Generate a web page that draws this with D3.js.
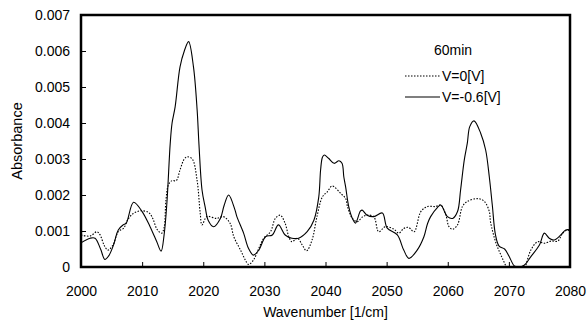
<!DOCTYPE html>
<html>
<head>
<meta charset="utf-8">
<script src="https://cdn.jsdelivr.net/npm/d3@7"></script>
<style>
  body { margin: 0; background: #fff; }
  svg { display: block; font-family: "Liberation Sans", Arial, sans-serif; }
</style>
</head>
<body>
<div id="chart"></div>
<script>
// V=-0.6[V] spectrum (solid line)
const solidWave = [2000, 2001.5, 2002.3, 2003.2, 2003.9, 2004.5, 2005.3, 2006.1, 2006.9, 2007.4,
  2008.6, 2010.0, 2011.3, 2012.4, 2013.1, 2013.6, 2014.05, 2014.6, 2014.9, 2015.4,
  2016.2, 2016.9, 2017.6, 2018.4, 2019.0, 2019.3, 2019.8, 2020.3, 2020.8, 2021.7,
  2022.8, 2023.4, 2024.15, 2025.2, 2025.5, 2026.6, 2027.4, 2028.2, 2029.1, 2030.2,
  2031.3, 2032.3, 2033.4, 2034.5, 2035.6, 2037.0, 2038.1, 2038.9, 2039.2, 2039.5,
  2039.8, 2040.5, 2041.4, 2042.2, 2042.7, 2043.0, 2043.3, 2043.8, 2044.4, 2044.9,
  2045.7, 2046.0, 2046.8, 2047.9, 2049.3, 2050.1, 2051.75, 2052.8, 2053.65, 2055.0,
  2056.1, 2056.7, 2057.2, 2058.3, 2058.85, 2059.95, 2060.8, 2061.6, 2062.1, 2062.7,
  2063.2, 2063.6, 2064.3, 2065.4, 2066.2, 2066.8, 2067.3, 2067.8, 2068.4, 2069.3,
  2070.05, 2070.9, 2071.6, 2072.5, 2073.6, 2075.0, 2075.8, 2076.6, 2077.4, 2078.5,
  2079.3, 2080];
const solidAbs = [0.00067, 0.0008, 0.0008, 0.0005, 0.00021, 0.0003, 0.0006, 0.00103, 0.00117, 0.00122,
  0.0018, 0.00154, 0.00112, 0.0007, 0.00044, 0.0009, 0.00177, 0.00344, 0.004, 0.00445,
  0.00556, 0.006, 0.00626, 0.00556, 0.00436, 0.0034, 0.00214, 0.00168, 0.0013, 0.00112,
  0.00135, 0.0017, 0.002, 0.00158, 0.0014, 0.00094, 0.00052, 0.00033, 0.00047, 0.00084,
  0.00089, 0.00117, 0.00089, 0.0008, 0.0008, 0.00098, 0.0013, 0.00195, 0.0027, 0.00305,
  0.00311, 0.00302, 0.00288, 0.00295, 0.00288, 0.0025, 0.00222, 0.00168, 0.00135, 0.00122,
  0.00155, 0.00158, 0.00144, 0.0014, 0.0015, 0.00108, 0.00089, 0.00047, 0.00024, 0.00047,
  0.00084, 0.00121, 0.0014, 0.00165, 0.00172, 0.0014, 0.00135, 0.00154, 0.00214, 0.00297,
  0.00344, 0.0039, 0.00406, 0.00371, 0.00325, 0.0025, 0.0017, 0.0009, 0.00058, 0.0005,
  0.00029, 0.00003, 0.0, 0.00005, 0.00029, 0.00061, 0.00094, 0.0008, 0.00075, 0.00089,
  0.00103, 0.00103];

// V=0[V] spectrum (dotted line)
const dottedWave = [2000, 2001.5, 2002.6, 2003.1, 2003.8, 2004.4, 2005.2, 2006.1, 2007.0, 2007.6,
  2008.5, 2009.7, 2011.0, 2011.6, 2012.5, 2013.2, 2013.6, 2013.9, 2014.3, 2014.9,
  2015.6, 2016.2, 2016.9, 2017.4, 2018.2, 2019.0, 2019.5, 2019.8, 2020.6, 2022.2,
  2023.3, 2024.4, 2025.0, 2026.1, 2026.9, 2027.4, 2028.2, 2029.1, 2029.9, 2031.0,
  2031.8, 2032.6, 2033.4, 2034.0, 2034.5, 2035.4, 2036.2, 2036.9, 2037.8, 2038.6,
  2039.5, 2040.3, 2041.1, 2042.5, 2043.3, 2043.6, 2044.4, 2045.2, 2046.1, 2046.8,
  2047.9, 2048.7, 2049.8, 2051.2, 2052.0, 2052.8, 2053.6, 2054.5, 2055.6, 2056.7,
  2058.0, 2058.85, 2059.7, 2060.2, 2060.8, 2061.6, 2062.4, 2063.2, 2064.9, 2066.0,
  2066.8, 2067.0, 2067.9, 2068.7, 2069.5, 2070.3, 2071.5, 2072.3, 2072.8, 2073.6,
  2074.7, 2075.8, 2076.9, 2078.0, 2078.8, 2079.6, 2080];
const dottedAbs = [0.00089, 0.00086, 0.00098, 0.0009, 0.0006, 0.00047, 0.0006, 0.00098, 0.00108, 0.0013,
  0.00148, 0.00156, 0.00152, 0.0014, 0.00103, 0.00094, 0.0011, 0.00186, 0.00228, 0.0024,
  0.0024, 0.0027, 0.003, 0.00306, 0.003, 0.0024, 0.0015, 0.00117, 0.0014, 0.00135,
  0.0014, 0.00121, 0.00084, 0.00047, 0.00019, 0.00007, 0.00019, 0.00052, 0.0008, 0.00098,
  0.00135, 0.00144, 0.00121, 0.00084, 0.0007, 0.0008, 0.00061, 0.00045, 0.00075, 0.0014,
  0.00195, 0.00209, 0.00225, 0.00204, 0.0019, 0.00168, 0.00135, 0.00126, 0.0014, 0.00144,
  0.0014, 0.00098, 0.00112, 0.00105, 0.00094, 0.00107, 0.0011, 0.00098, 0.00154, 0.00168,
  0.00168, 0.00172, 0.00144, 0.00112, 0.00105, 0.00117, 0.00168, 0.00182, 0.0019, 0.00182,
  0.00154, 0.00125, 0.00066, 0.00033, 0.00003, -0.0003, -0.0004, -0.0002, 0.00006, 0.00047,
  0.0007, 0.00066, 0.00072, 0.00072, 0.00094, 0.00103, 0.001];

const xTicks = [2000, 2010, 2020, 2030, 2040, 2050, 2060, 2070, 2080];
const yTicks = [0, 0.001, 0.002, 0.003, 0.004, 0.005, 0.006, 0.007];
const legendTitle = '60min';
const seriesNames = ['V=0[V]', 'V=-0.6[V]'];

const width = 587, height = 322;
const margin = {top: 15, right: 17, bottom: 55, left: 81};
const plotW = width - margin.left - margin.right;
const plotH = height - margin.top - margin.bottom;

const svg = d3.select('#chart').append('svg')
  .attr('width', width)
  .attr('height', height);

const x = d3.scaleLinear().domain([2000, 2080]).range([0, plotW]);
const y = d3.scaleLinear().domain([0, 0.007]).range([plotH, 0]);

const g = svg.append('g').attr('transform', `translate(${margin.left},${margin.top})`);

g.append('clipPath').attr('id', 'plot-clip')
  .append('rect').attr('width', plotW).attr('height', plotH);

// axes with inward ticks
const xAxis = g.append('g')
  .attr('transform', `translate(0,${plotH})`)
  .call(d3.axisBottom(x).tickValues(xTicks).tickFormat(d3.format('d'))
    .tickSizeInner(-5).tickSizeOuter(0).tickPadding(19));

const yAxis = g.append('g')
  .call(d3.axisLeft(y).tickValues(yTicks).tickFormat(d => d === 0 ? '0' : d3.format('.3f')(d))
    .tickSizeInner(-5).tickSizeOuter(0).tickPadding(11));

[xAxis, yAxis].forEach(a => {
  a.select('.domain').remove();
  a.selectAll('.tick line').attr('stroke', '#000').attr('stroke-width', 1);
  a.selectAll('.tick text').attr('fill', '#000').style('font-size', '14px')
    .style('font-family', '"Liberation Sans", Arial, sans-serif');
});

const lineFor = (xs, ys) => d3.line()
  .x((d, i) => x(xs[i]))
  .y((d, i) => y(ys[i]))
  .curve(d3.curveCatmullRom.alpha(0.5))(xs);

const lines = g.append('g').attr('clip-path', 'url(#plot-clip)');

lines.append('path')
  .attr('d', lineFor(dottedWave, dottedAbs))
  .attr('fill', 'none')
  .attr('stroke', '#000')
  .attr('stroke-width', 1.1)
  .attr('stroke-dasharray', '1.5,1.5');

lines.append('path')
  .attr('d', lineFor(solidWave, solidAbs))
  .attr('fill', 'none')
  .attr('stroke', '#000')
  .attr('stroke-width', 1.1);

// frame
g.append('rect')
  .attr('width', plotW)
  .attr('height', plotH)
  .attr('fill', 'none')
  .attr('stroke', '#000')
  .attr('stroke-width', 2.5);

// axis titles
svg.append('text')
  .attr('x', margin.left + plotW / 2)
  .attr('y', 317)
  .attr('text-anchor', 'middle')
  .style('font-size', '14px')
  .text('Wavenumber [1/cm]');

svg.append('text')
  .attr('transform', `translate(22,${margin.top + plotH / 2}) rotate(-90)`)
  .attr('text-anchor', 'middle')
  .style('font-size', '14.5px')
  .text('Absorbance');

// legend
const legend = svg.append('g');
legend.append('text')
  .attr('x', 434).attr('y', 55)
  .style('font-size', '14px')
  .text(legendTitle);

seriesNames.forEach((name, i) => {
  const ly = 76 + i * 21;
  legend.append('line')
    .attr('x1', 405).attr('x2', 440)
    .attr('y1', ly).attr('y2', ly)
    .attr('stroke', '#000')
    .attr('stroke-width', 1.1)
    .attr('stroke-dasharray', i === 0 ? '1.5,1.5' : null);
  legend.append('text')
    .attr('x', 442).attr('y', ly + 5)
    .style('font-size', '14px')
    .text(name);
});
</script>
</body>
</html>
